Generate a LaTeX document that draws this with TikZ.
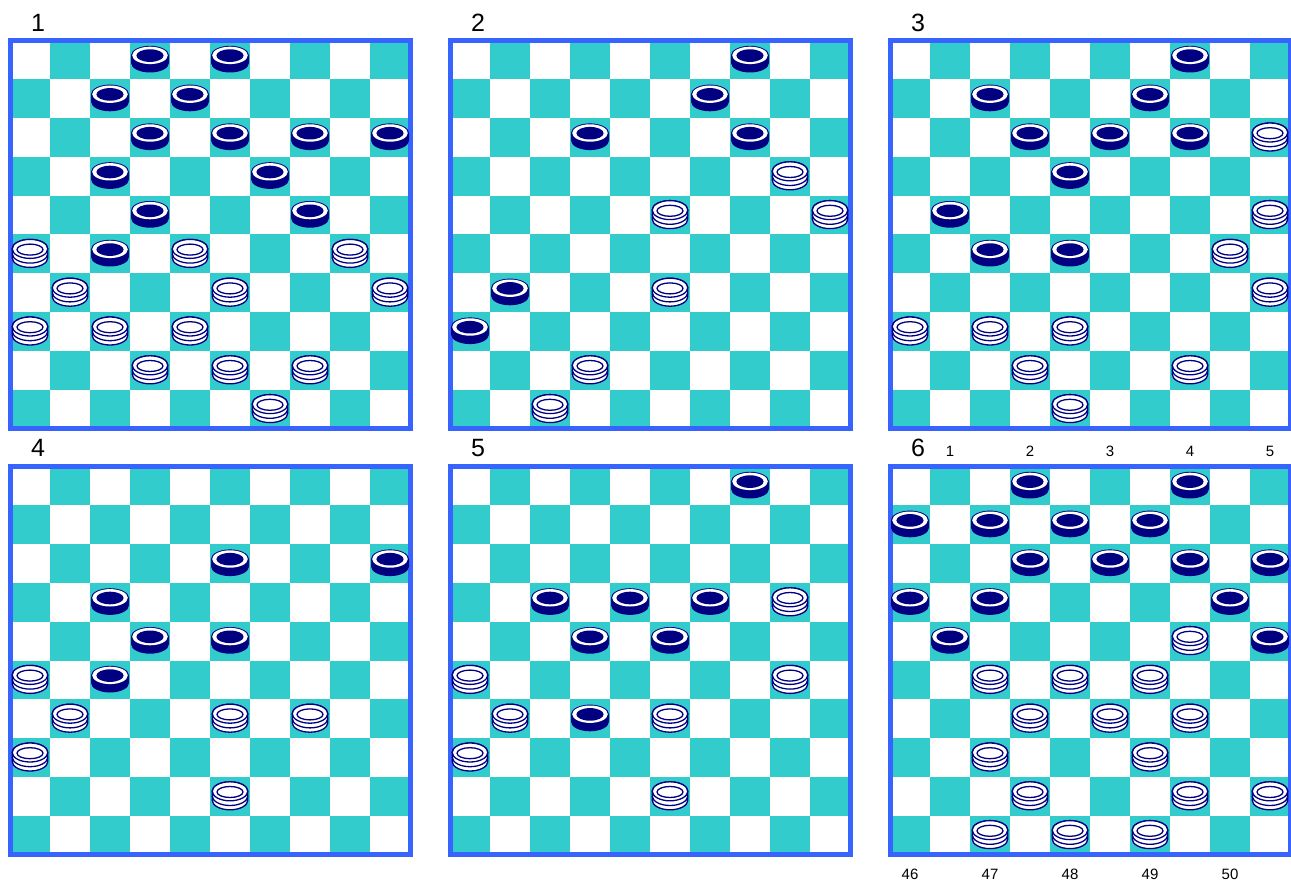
\documentclass[tikz,border=0pt]{standalone}
\usepackage{fontspec}
\setmainfont{Liberation Sans}
\definecolor{boardteal}{RGB}{51,204,204}
\definecolor{piecenavy}{RGB}{0,0,128}
\definecolor{frameblue}{RGB}{55,100,255}
\tikzset{
  darksq/.style={fill=boardteal},
  boardframe/.style={draw=frameblue,line width=5pt},
  bignum/.style={font=\fontsize{25}{25}\selectfont,inner sep=0pt},
  smallnum/.style={font=\fontsize{15}{15}\selectfont,inner sep=0pt},
  wline/.style={draw=piecenavy,line width=1.3pt},
  bp/.pic={
    \fill[piecenavy] (-19,-4.5) -- (-19,3) arc[start angle=180,end angle=360,x radius=19pt,y radius=9.6pt] -- (19,-4.5) arc[start angle=0,end angle=180,x radius=19pt,y radius=9.6pt] -- cycle;
    \fill[white] (0,-4.5) ellipse[x radius=17.8pt,y radius=8.7pt];
    \fill[piecenavy] (0,-4.3) ellipse[x radius=13.6pt,y radius=6.3pt];
  },
  wp/.pic={
    \filldraw[fill=white,wline] (-17.8,-5) -- (-17.8,4) arc[start angle=180,end angle=360,x radius=17.8pt,y radius=9.5pt] -- (17.8,-5) arc[start angle=0,end angle=180,x radius=17.8pt,y radius=9.5pt] -- cycle;
    \draw[wline] (-17.8,-0.3) arc[start angle=180,end angle=360,x radius=17.8pt,y radius=9.5pt];
    \filldraw[fill=white,wline] (0,-5) ellipse[x radius=17.8pt,y radius=9.5pt];
    \draw[wline] (0,-4.3) ellipse[x radius=13pt,y radius=5.5pt];
  }
}
\newcommand\mkboard[2]{%
  \fill[white] (#1,#2) rectangle ++(400,388);
  \foreach \r in {0,...,9}{%
    \foreach \c in {0,...,9}{%
      \pgfmathtruncatemacro\sqpar{mod(\r+\c,2)}%
      \ifnum\sqpar=1 \fill[darksq] ({#1+\c*40},{#2+\r*38.8}) rectangle ++(40,38.8);\fi
    }%
  }%
  \draw[boardframe] (#1,#2) rectangle ++(400,388);
}
\newcommand\putpcs[4]{%
  \foreach \c/\r in {#4} \pic at ({#1+\c*40+20},{#2+\r*38.8+19.4}) {#3};
}
\begin{document}
\begin{tikzpicture}[x=1pt,y=-1pt]
\useasboundingbox (0,0) rectangle (1291,882);
\fill[white] (0,0) rectangle (1291,882);
% boards
\mkboard{10}{40.5}
\mkboard{450}{40.5}
\mkboard{890}{40.5}
\mkboard{10}{466.5}
\mkboard{450}{466.5}
\mkboard{890}{466.5}
% board 1
\putpcs{10}{40.5}{bp}{3/0,5/0,2/1,4/1,3/2,5/2,7/2,9/2,2/3,6/3,3/4,7/4,2/5}
\putpcs{10}{40.5}{wp}{0/5,4/5,8/5,1/6,5/6,9/6,0/7,2/7,4/7,3/8,5/8,7/8,6/9}
% board 2
\putpcs{450}{40.5}{bp}{7/0,6/1,3/2,7/2,1/6,0/7}
\putpcs{450}{40.5}{wp}{8/3,5/4,9/4,5/6,3/8,2/9}
% board 3
\putpcs{890}{40.5}{bp}{7/0,2/1,6/1,3/2,5/2,7/2,4/3,1/4,2/5,4/5}
\putpcs{890}{40.5}{wp}{9/2,9/4,8/5,9/6,0/7,2/7,4/7,3/8,7/8,4/9}
% board 4
\putpcs{10}{466.5}{bp}{5/2,9/2,2/3,3/4,5/4,2/5}
\putpcs{10}{466.5}{wp}{0/5,1/6,5/6,7/6,0/7,5/8}
% board 5
\putpcs{450}{466.5}{bp}{7/0,2/3,4/3,6/3,3/4,5/4,3/6}
\putpcs{450}{466.5}{wp}{8/3,0/5,8/5,1/6,5/6,0/7,5/8}
% board 6
\putpcs{890}{466.5}{bp}{3/0,7/0,0/1,2/1,4/1,6/1,3/2,5/2,7/2,9/2,0/3,2/3,8/3,1/4,9/4}
\putpcs{890}{466.5}{wp}{7/4,2/5,4/5,6/5,3/6,5/6,7/6,2/7,6/7,3/8,7/8,9/8,2/9,4/9,6/9}
% board numbers
\node[bignum] (n1) at (38,22.5) {1};
\node[bignum] (n2) at (478,22.5) {2};
\node[bignum] (n3) at (918,22.5) {3};
\node[bignum] (n4) at (38,448) {4};
\node[bignum] (n5) at (478,448) {5};
\node[bignum] (n6) at (918,448) {6};
% square numbers
\node[smallnum] (s1) at (950,451.3) {1};
\node[smallnum] (s2) at (1030,451.3) {2};
\node[smallnum] (s3) at (1110,451.3) {3};
\node[smallnum] (s4) at (1190,451.3) {4};
\node[smallnum] (s5) at (1270,451.3) {5};
\node[smallnum] (s46) at (910,874.5) {46};
\node[smallnum] (s47) at (990,874.5) {47};
\node[smallnum] (s48) at (1070,874.5) {48};
\node[smallnum] (s49) at (1150,874.5) {49};
\node[smallnum] (s50) at (1230,874.5) {50};
\end{tikzpicture}
\end{document}
